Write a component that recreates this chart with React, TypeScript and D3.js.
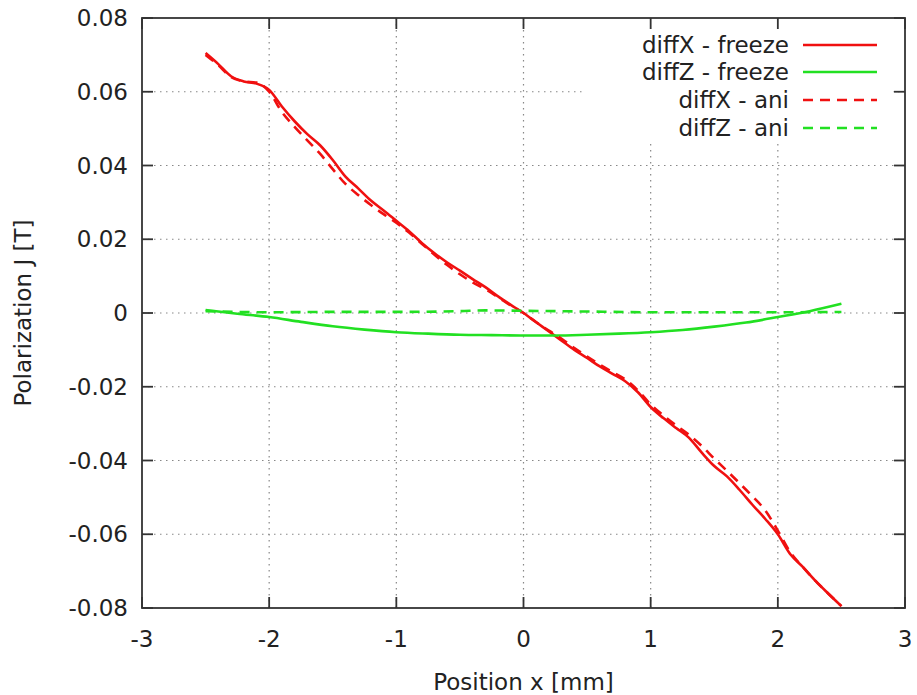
import React from "react";
import * as d3 from "d3";

const xTicks = [-3, -2, -1, 0, 1, 2, 3];
const yTicks = [-0.08, -0.06, -0.04, -0.02, 0, 0.02, 0.04, 0.06, 0.08];
const xTickLabels = ["-3", "-2", "-1", "0", "1", "2", "3"];
const yTickLabels = ["-0.08", "-0.06", "-0.04", "-0.02", "0", "0.02", "0.04", "0.06", "0.08"];

const diffXFreezeX = [-2.5,-2.4,-2.3,-2.2,-2.1,-2.0,-1.9,-1.8,-1.7,-1.6,-1.5,-1.4,-1.3,-1.2,-1.1,-1.0,-0.9,-0.8,-0.7,-0.6,-0.5,-0.4,-0.3,-0.2,-0.1,0,0.1,0.2,0.3,0.4,0.5,0.6,0.7,0.8,0.9,1.0,1.1,1.2,1.3,1.4,1.5,1.6,1.7,1.8,1.9,2.0,2.1,2.2,2.3,2.4,2.5];
const diffXFreezeY = [0.0705,0.0675,0.0642,0.0628,0.0622,0.0605,0.0560,0.0520,0.0485,0.0455,0.0415,0.0370,0.0338,0.0305,0.0278,0.0250,0.0222,0.0190,0.0162,0.0137,0.0115,0.0092,0.0070,0.0045,0.0022,0.0,-0.0025,-0.0050,-0.0075,-0.0100,-0.0122,-0.0145,-0.0165,-0.0185,-0.0215,-0.0255,-0.0285,-0.0312,-0.0338,-0.0378,-0.0415,-0.0443,-0.0480,-0.0520,-0.0558,-0.0600,-0.0655,-0.0690,-0.0728,-0.0762,-0.0795];

const diffXAniX = diffXFreezeX;
const diffXAniY = [0.0700,0.0672,0.0640,0.0628,0.0625,0.0600,0.0545,0.0505,0.0468,0.0432,0.0390,0.0350,0.0320,0.0293,0.0268,0.0245,0.0218,0.0188,0.0158,0.0130,0.0105,0.0083,0.0065,0.0043,0.0020,0.0,-0.0025,-0.0048,-0.0070,-0.0095,-0.0118,-0.0140,-0.0160,-0.0180,-0.0210,-0.0248,-0.0278,-0.0305,-0.0330,-0.0360,-0.0395,-0.0428,-0.0462,-0.0497,-0.0535,-0.0590,-0.0650,-0.0690,-0.0728,-0.0762,-0.0795];

const diffZFreezeX = [-2.5,-2.25,-2.0,-1.75,-1.5,-1.25,-1.0,-0.75,-0.5,-0.25,0,0.25,0.5,0.75,1.0,1.25,1.5,1.75,2.0,2.25,2.5];
const diffZFreezeY = [0.0008,-0.0002,-0.0011,-0.0024,-0.0036,-0.0045,-0.0052,-0.0056,-0.0059,-0.0060,-0.0061,-0.0061,-0.0059,-0.0056,-0.0052,-0.0046,-0.0037,-0.0026,-0.0011,0.0005,0.0025];

const diffZAniX = [-2.5,-2.0,-1.5,-1.0,-0.5,-0.3,0,0.5,1.0,1.5,2.0,2.5];
const diffZAniY = [0.0005,0.0002,0.0003,0.0003,0.0005,0.0007,0.0006,0.0004,0.0002,0.0002,0.0002,0.0003];

const seriesNames = ["diffX - freeze", "diffZ - freeze", "diffX - ani", "diffZ - ani"];

const RED = "#f01010";
const GREEN = "#22e022";

export default function App() {
  const W = 917, H = 695;
  const L = 142, R = 905, T = 18, B = 608;
  const x = d3.scaleLinear().domain([-3, 3]).range([L, R]);
  const y = d3.scaleLinear().domain([-0.08, 0.08]).range([B, T]);
  const line = (xs: number[], ys: number[]) =>
    d3.line<number>().x((_, i) => x(xs[i])).y((d) => y(d)).curve(d3.curveMonotoneX)(ys) || "";

  const series = [
    { name: seriesNames[0], xs: diffXFreezeX, ys: diffXFreezeY, color: RED, dash: "" },
    { name: seriesNames[1], xs: diffZFreezeX, ys: diffZFreezeY, color: GREEN, dash: "" },
    { name: seriesNames[2], xs: diffXAniX, ys: diffXAniY, color: RED, dash: "10,7" },
    { name: seriesNames[3], xs: diffZAniX, ys: diffZAniY, color: GREEN, dash: "10,7" },
  ];
  const font = "'DejaVu Sans', sans-serif";
  const fs = 23;
  const legendRowY = [45, 72, 100, 128];

  return (
    <svg width={W} height={H} style={{ display: "block", position: "absolute", left: 0, top: 0, background: "#fff" }} fontFamily={font}>
      <rect x={0} y={0} width={W} height={H} fill="#fff" />
      {/* grid */}
      {xTicks.slice(1, -1).map((t) => (
        <line key={"gx" + t} x1={x(t)} x2={x(t)} y1={T} y2={B} stroke="#888" strokeWidth={1.2} strokeDasharray="1.5,4.5" />
      ))}
      {yTicks.slice(1, -1).map((t) => (
        <line key={"gy" + t} x1={L} x2={R} y1={y(t)} y2={y(t)} stroke="#888" strokeWidth={1.2} strokeDasharray="1.5,4.5" />
      ))}
      {/* legend background */}
      <rect x={583} y={T + 1} width={310} height={122} fill="#fff" />
      {/* series */}
      {series.map((s, i) => (
        <path key={"s" + i} d={line(s.xs, s.ys)} fill="none" stroke={s.color} strokeWidth={2.6} strokeDasharray={s.dash} strokeLinejoin="round" />
      ))}
      {/* frame */}
      <rect x={L} y={T} width={R - L} height={B - T} fill="none" stroke="#333" strokeWidth={1.8} />
      {xTicks.map((t, i) => (
        <g key={"xt" + t}>
          <line x1={x(t)} x2={x(t)} y1={B} y2={B - 11} stroke="#333" strokeWidth={1.8} />
          <line x1={x(t)} x2={x(t)} y1={T} y2={T + 11} stroke="#333" strokeWidth={1.8} />
          <text x={x(t)} y={647} textAnchor="middle" fontSize={fs} fill="#222">{xTickLabels[i]}</text>
        </g>
      ))}
      {yTicks.map((t, i) => (
        <g key={"yt" + t}>
          <line x1={L} x2={L + 11} y1={y(t)} y2={y(t)} stroke="#333" strokeWidth={1.8} />
          <line x1={R} x2={R - 11} y1={y(t)} y2={y(t)} stroke="#333" strokeWidth={1.8} />
          <text x={128} y={y(t) + 8} textAnchor="end" fontSize={fs} fill="#222">{yTickLabels[i]}</text>
        </g>
      ))}
      <text x={(L + R) / 2} y={690} textAnchor="middle" fontSize={fs} fill="#222">Position x [mm]</text>
      <text transform={`translate(31,${(T + B) / 2}) rotate(-90)`} textAnchor="middle" fontSize={fs} fill="#222">Polarization J [T]</text>
      {/* legend */}
      {series.map((s, i) => (
        <g key={"lg" + i}>
          <text x={789} y={legendRowY[i] + 8} textAnchor="end" fontSize={fs} fill="#222">{s.name}</text>
          <line x1={803} x2={877} y1={legendRowY[i]} y2={legendRowY[i]} stroke={s.color} strokeWidth={2.6} strokeDasharray={s.dash} />
        </g>
      ))}
    </svg>
  );
}
